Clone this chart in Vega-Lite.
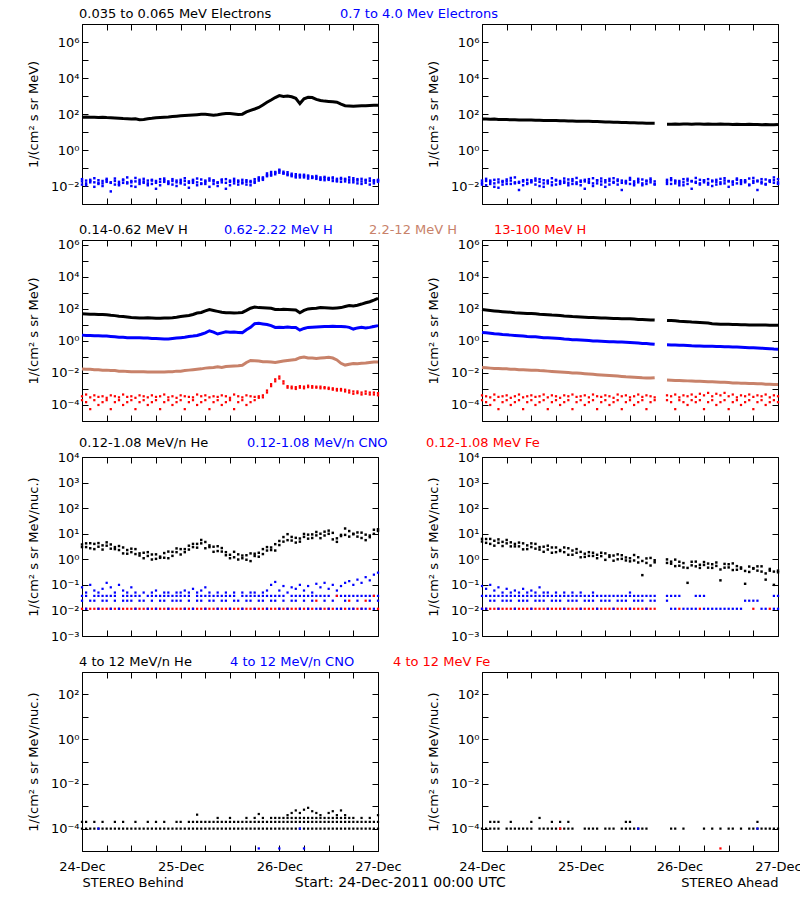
{
"$schema":"https://vega.github.io/schema/vega-lite/v6.json",
"padding":{"left":26,"top":6,"right":0,"bottom":0},
"background":"white",
"title":{"text":"Start: 24-Dec-2011 00:00 UTC","orient":"bottom","anchor":"middle","offset":-14,"dx":-14,"fontSize":14,"fontWeight":"normal","font":"DejaVu Sans","color":"black"},
"datasets":{
"p1":[{"h":0,"a":66,"b":0.018,"c":0.012,"d":0.024},{"h":1,"a":68,"b":0.014,"c":0.02,"d":0.011},{"h":2,"a":65,"b":0.022,"c":0.016,"d":0.019},{"h":3,"a":66,"b":0.016,"c":0.009,"d":0.027},{"h":4,"a":64,"b":0.013,"c":0.021,"d":0.015},{"h":5,"a":66,"b":0.019,"c":0.014,"d":0.01},{"h":6,"a":63,"b":0.025,"c":0.017,"d":0.021},{"h":7,"a":62,"b":0.015,"c":0.005,"d":0.016},{"h":8,"a":60,"b":0.012,"c":0.019,"d":0.026},{"h":9,"a":58,"b":0.017,"c":0.013,"d":0.011},{"h":10,"a":56,"b":0.021,"c":0.023,"d":0.015},{"h":11,"a":55,"b":0.014,"c":0.016,"d":0.03},{"h":12,"a":52,"b":0.016,"c":0.01,"d":0.019},{"h":13,"a":54,"b":0.028,"c":0.018,"d":0.009},{"h":14,"a":48,"b":0.013,"c":0.022,"d":0.017},{"h":15,"a":50,"b":0.018,"c":0.015,"d":0.025},{"h":16,"a":55,"b":0.011,"c":0.02,"d":0.014},{"h":17,"a":58,"b":0.02,"c":0.013,"d":0.022},{"h":18,"a":62,"b":0.015,"c":0.007,"d":0.019},{"h":19,"a":64,"b":0.024,"c":0.017,"d":0.011},{"h":20,"a":66,"b":0.017,"c":0.021,"d":0.026},{"h":21,"a":68,"b":0.013,"c":0.015,"d":0.018},{"h":22,"a":72,"b":0.019,"c":0.012,"d":0.024},{"h":23,"a":76,"b":0.016,"c":0.02,"d":0.01},{"h":24,"a":80,"b":0.022,"c":0.014,"d":0.017},{"h":25,"a":82,"b":0.012,"c":0.019,"d":0.027},{"h":26,"a":85,"b":0.018,"c":0.008,"d":0.015},{"h":27,"a":88,"b":0.015,"c":0.022,"d":0.019},{"h":28,"a":92,"b":0.026,"c":0.016,"d":0.011},{"h":29,"a":96,"b":0.014,"c":0.013,"d":0.023},{"h":30,"a":98,"b":0.017,"c":0.02,"d":0.013},{"h":31,"a":92,"b":0.02,"c":0.009,"d":0.026},{"h":32,"a":86,"b":0.013,"c":0.018,"d":0.021},{"h":33,"a":90,"b":0.016,"c":0.015,"d":0.01},{"h":34,"a":100,"b":0.023,"c":0.021,"d":0.016},{"h":35,"a":108,"b":0.015,"c":0.007,"d":0.024},{"h":36,"a":105,"b":0.011,"c":0.017,"d":0.02},{"h":37,"a":100,"b":0.019,"c":0.014,"d":0.025},{"h":38,"a":95,"b":0.017,"c":0.02,"d":0.012},{"h":39,"a":98,"b":0.014,"c":0.016,"d":0.022},{"h":40,"a":130,"b":0.021,"c":0.012,"d":0.017},{"h":41,"a":160,"b":0.016,"c":0.019,"d":0.011},{"h":42,"a":190,"b":0.018,"c":0.015,"d":0.024},{"h":43,"a":230,"b":0.025,"c":0.02,"d":0.03},{"h":44,"a":320,"b":0.03,"c":0.026,"d":0.022},{"h":45,"a":450,"b":0.035,"c":0.04,"d":0.05},{"h":46,"a":600,"b":0.045,"c":0.038,"d":0.06},{"h":47,"a":820,"b":0.055,"c":0.06,"d":0.045},{"h":48,"a":1050,"b":0.07,"c":0.055,"d":0.08},{"h":49,"a":950,"b":0.05,"c":0.062,"d":0.05},{"h":50,"a":1000,"b":0.045,"c":0.04,"d":0.058},{"h":51,"a":900,"b":0.04,"c":0.048,"d":0.035},{"h":52,"a":750,"b":0.035,"c":0.03,"d":0.045},{"h":53,"a":380,"b":0.038,"c":0.042,"d":0.03},{"h":54,"a":700,"b":0.03,"c":0.036,"d":0.042},{"h":55,"a":850,"b":0.033,"c":0.026,"d":0.038},{"h":56,"a":820,"b":0.028,"c":0.034,"d":0.03},{"h":57,"a":650,"b":0.03,"c":0.025,"d":0.036},{"h":58,"a":560,"b":0.025,"c":0.03,"d":0.022},{"h":59,"a":520,"b":0.027,"c":0.021,"d":0.032},{"h":60,"a":500,"b":0.022,"c":0.028,"d":0.025},{"h":61,"a":480,"b":0.026,"c":0.019,"d":0.03},{"h":62,"a":450,"b":0.02,"c":0.025,"d":0.018},{"h":63,"a":350,"b":0.024,"c":0.017,"d":0.028},{"h":64,"a":290,"b":0.018,"c":0.023,"d":0.025},{"h":65,"a":280,"b":0.022,"c":0.03,"d":0.016},{"h":66,"a":270,"b":0.016,"c":0.021,"d":0.027},{"h":67,"a":280,"b":0.02,"c":0.014,"d":0.024},{"h":68,"a":285,"b":0.025,"c":0.018,"d":0.013},{"h":69,"a":290,"b":0.015,"c":0.022,"d":0.02},{"h":70,"a":300,"b":0.019,"c":0.012,"d":0.026},{"h":71,"a":305,"b":0.021,"c":0.018,"d":0.014},{"h":72,"a":310,"b":0.017,"c":0.022,"d":0.02}],
"p2":[{"h":0,"a":53,"b":0.015,"c":0.02,"d":0.012},{"h":1,"a":52,"b":0.019,"c":0.011,"d":0.025},{"h":2,"a":51,"b":0.013,"c":0.017,"d":0.02},{"h":3,"a":52,"b":0.022,"c":0.014,"d":0.009},{"h":4,"a":50,"b":0.016,"c":0.008,"d":0.023},{"h":5,"a":50,"b":0.012,"c":0.019,"d":0.017},{"h":6,"a":49,"b":0.018,"c":0.023,"d":0.013},{"h":7,"a":48,"b":0.028,"c":0.013,"d":0.02},{"h":8,"a":48,"b":0.014,"c":0.016,"d":0.03},{"h":9,"a":47,"b":0.017,"c":0.006,"d":0.015},{"h":10,"a":47,"b":0.021,"c":0.018,"d":0.011},{"h":11,"a":46,"b":0.013,"c":0.015,"d":0.022},{"h":12,"a":46,"b":0.016,"c":0.021,"d":0.018},{"h":13,"a":45,"b":0.02,"c":0.012,"d":0.026},{"h":14,"a":45,"b":0.024,"c":0.017,"d":0.01},{"h":15,"a":44,"b":0.014,"c":0.009,"d":0.021},{"h":16,"a":44,"b":0.018,"c":0.02,"d":0.014},{"h":17,"a":43,"b":0.011,"c":0.016,"d":0.027},{"h":18,"a":43,"b":0.02,"c":0.022,"d":0.012},{"h":19,"a":42,"b":0.016,"c":0.013,"d":0.019},{"h":20,"a":42,"b":0.026,"c":0.018,"d":0.015},{"h":21,"a":41,"b":0.015,"c":0.011,"d":0.023},{"h":22,"a":41,"b":0.019,"c":0.024,"d":0.013},{"h":23,"a":40,"b":0.013,"c":0.016,"d":0.028},{"h":24,"a":40,"b":0.017,"c":0.02,"d":0.011},{"h":25,"a":39,"b":0.022,"c":0.007,"d":0.018},{"h":26,"a":39,"b":0.015,"c":0.018,"d":0.024},{"h":27,"a":38,"b":0.027,"c":0.014,"d":0.01},{"h":28,"a":38,"b":0.014,"c":0.021,"d":0.02},{"h":29,"a":37,"b":0.018,"c":0.012,"d":0.026},{"h":30,"a":36,"b":0.021,"c":0.016,"d":0.009},{"h":31,"a":36,"b":0.012,"c":0.025,"d":0.019},{"h":32,"a":35,"b":0.017,"c":0.015,"d":0.027},{"h":33,"a":35,"b":0.023,"c":0.019,"d":0.012},{"h":34,"a":34,"b":0.015,"c":0.006,"d":0.02},{"h":35,"a":34,"b":0.019,"c":0.017,"d":0.014},{"h":36,"a":33,"b":0.013,"c":0.022,"d":0.028},{"h":37,"a":33,"b":0.018,"c":0.014,"d":0.011},{"h":38,"a":32,"b":0.025,"c":0.016,"d":0.02},{"h":39,"a":32,"b":0.014,"c":0.011,"d":0.023},{"h":40,"a":31,"b":0.02,"c":0.018,"d":0.013},{"h":41,"a":31,"b":0.016,"c":0.021,"d":0.026},{"h":42,"a":31,"b":0.018,"c":0.013,"d":0.012},{"h":43},{"h":44},{"h":45,"a":27,"b":0.017,"c":0.022,"d":0.013},{"h":46,"a":27,"b":0.021,"c":0.013,"d":0.027},{"h":47,"a":28,"b":0.014,"c":0.018,"d":0.02},{"h":48,"a":27,"b":0.019,"c":0.011,"d":0.015},{"h":49,"a":28,"b":0.024,"c":0.016,"d":0.011},{"h":50,"a":28,"b":0.013,"c":0.02,"d":0.025},{"h":51,"a":27,"b":0.018,"c":0.007,"d":0.019},{"h":52,"a":28,"b":0.015,"c":0.017,"d":0.028},{"h":53,"a":28,"b":0.022,"c":0.014,"d":0.012},{"h":54,"a":27,"b":0.016,"c":0.021,"d":0.02},{"h":55,"a":28,"b":0.012,"c":0.015,"d":0.024},{"h":56,"a":27,"b":0.02,"c":0.018,"d":0.01},{"h":57,"a":27,"b":0.017,"c":0.012,"d":0.022},{"h":58,"a":28,"b":0.025,"c":0.016,"d":0.013},{"h":59,"a":27,"b":0.014,"c":0.02,"d":0.027},{"h":60,"a":27,"b":0.019,"c":0.009,"d":0.018},{"h":61,"a":26,"b":0.016,"c":0.018,"d":0.012},{"h":62,"a":27,"b":0.022,"c":0.014,"d":0.026},{"h":63,"a":26,"b":0.013,"c":0.021,"d":0.017},{"h":64,"a":26,"b":0.018,"c":0.016,"d":0.021},{"h":65,"a":27,"b":0.026,"c":0.012,"d":0.011},{"h":66,"a":26,"b":0.015,"c":0.019,"d":0.028},{"h":67,"a":26,"b":0.02,"c":0.006,"d":0.018},{"h":68,"a":25,"b":0.014,"c":0.017,"d":0.024},{"h":69,"a":26,"b":0.023,"c":0.013,"d":0.012},{"h":70,"a":25,"b":0.017,"c":0.02,"d":0.02},{"h":71,"a":25,"b":0.021,"c":0.015,"d":0.03},{"h":72,"a":26,"b":0.016,"c":0.024,"d":0.013}],
"p3":[{"h":0,"a":49,"b":2.3,"c":0.0175,"d":3.5e-4,"e":2e-4},{"h":1,"a":48,"b":2.2,"c":0.017,"d":4.5e-4,"e":1.5e-4},{"h":2,"a":47,"b":2.2,"c":0.017,"d":3e-4,"e":5.5e-5},{"h":3,"a":46,"b":2.1,"c":0.016,"d":4e-4,"e":2e-4},{"h":4,"a":45,"b":2.1,"c":0.016,"d":3.2e-4,"e":1e-4},{"h":5,"a":44,"b":2,"c":0.015,"d":3.5e-4,"e":1.5e-4},{"h":6,"a":43,"b":2,"c":0.015,"d":2.8e-4,"e":2e-4},{"h":7,"a":40,"b":1.9,"c":0.014,"d":4e-4,"e":5.5e-5},{"h":8,"a":38,"b":1.8,"c":0.014,"d":3.5e-4,"e":1.5e-4},{"h":9,"a":35,"b":1.7,"c":0.013,"d":3e-4,"e":2e-4},{"h":10,"a":33,"b":1.7,"c":0.013,"d":4.5e-4,"e":1e-4},{"h":11,"a":31,"b":1.6,"c":0.0125,"d":3.2e-4,"e":1.5e-4},{"h":12,"a":29,"b":1.6,"c":0.012,"d":3.5e-4,"e":2e-4},{"h":13,"a":28,"b":1.6,"c":0.012,"d":2.8e-4,"e":5.5e-5},{"h":14,"a":27,"b":1.6,"c":0.012,"d":4e-4,"e":1.5e-4},{"h":15,"a":27,"b":1.5,"c":0.012,"d":3.5e-4,"e":2e-4},{"h":16,"a":28,"b":1.5,"c":0.0115,"d":3e-4,"e":1e-4},{"h":17,"a":27,"b":1.4,"c":0.0115,"d":4e-4,"e":1.5e-4},{"h":18,"a":26,"b":1.4,"c":0.0115,"d":3.2e-4,"e":2e-4},{"h":19,"a":26,"b":1.35,"c":0.0115,"d":3.5e-4,"e":5.5e-5},{"h":20,"a":27,"b":1.3,"c":0.0115,"d":4.5e-4,"e":1.5e-4},{"h":21,"a":27,"b":1.3,"c":0.012,"d":3e-4,"e":2e-4},{"h":22,"a":28,"b":1.4,"c":0.012,"d":3.5e-4,"e":1e-4},{"h":23,"a":30,"b":1.5,"c":0.013,"d":2.8e-4,"e":1.5e-4},{"h":24,"a":33,"b":1.6,"c":0.013,"d":4e-4,"e":2e-4},{"h":25,"a":36,"b":1.7,"c":0.014,"d":3.5e-4,"e":5.5e-5},{"h":26,"a":39,"b":1.9,"c":0.015,"d":3.2e-4,"e":1.5e-4},{"h":27,"a":45,"b":2,"c":0.016,"d":3e-4,"e":2e-4},{"h":28,"a":55,"b":2.2,"c":0.017,"d":4.5e-4,"e":1e-4},{"h":29,"a":60,"b":2.6,"c":0.018,"d":3.5e-4,"e":1.5e-4},{"h":30,"a":75,"b":3.2,"c":0.02,"d":4e-4,"e":2e-4},{"h":31,"a":90,"b":4.3,"c":0.021,"d":3e-4,"e":5.5e-5},{"h":32,"a":80,"b":3.5,"c":0.022,"d":3.5e-4,"e":1.5e-4},{"h":33,"a":70,"b":2.7,"c":0.024,"d":3.2e-4,"e":2e-4},{"h":34,"a":62,"b":3.2,"c":0.022,"d":4e-4,"e":1e-4},{"h":35,"a":57,"b":3.7,"c":0.025,"d":3.5e-4,"e":1.5e-4},{"h":36,"a":58,"b":3.5,"c":0.026,"d":2.8e-4,"e":2e-4},{"h":37,"a":55,"b":3.6,"c":0.027,"d":4.5e-4,"e":5.5e-5},{"h":38,"a":57,"b":3.4,"c":0.028,"d":3.5e-4,"e":1.5e-4},{"h":39,"a":60,"b":3.3,"c":0.03,"d":3e-4,"e":2e-4},{"h":40,"a":80,"b":5,"c":0.045,"d":4e-4,"e":1e-4},{"h":41,"a":110,"b":7,"c":0.06,"d":3.5e-4,"e":1.5e-4},{"h":42,"a":130,"b":12,"c":0.058,"d":3.2e-4,"e":2e-4},{"h":43,"a":120,"b":12.5,"c":0.055,"d":3.5e-4,"e":2.8e-4},{"h":44,"a":118,"b":11.5,"c":0.05,"d":4e-4,"e":3e-4},{"h":45,"a":115,"b":10.5,"c":0.05,"d":8e-4,"e":6e-4},{"h":46,"a":110,"b":9,"c":0.048,"d":2e-3,"e":1.5e-3},{"h":47,"a":92,"b":7,"c":0.045,"d":4e-3,"e":3e-3},{"h":48,"a":90,"b":7.2,"c":0.05,"d":6e-3,"e":4.5e-3},{"h":49,"a":95,"b":7,"c":0.055,"d":3e-3,"e":2.2e-3},{"h":50,"a":92,"b":7.3,"c":0.06,"d":1.2e-3,"e":1.5e-3},{"h":51,"a":88,"b":7,"c":0.065,"d":1.1e-3,"e":1.4e-3},{"h":52,"a":85,"b":6.8,"c":0.07,"d":1.3e-3,"e":1e-3},{"h":53,"a":57,"b":4.7,"c":0.09,"d":1.2e-3,"e":1.5e-3},{"h":54,"a":80,"b":6,"c":0.1,"d":1.4e-3,"e":1.1e-3},{"h":55,"a":100,"b":7,"c":0.085,"d":1.3e-3,"e":1.6e-3},{"h":56,"a":105,"b":7.2,"c":0.087,"d":1.5e-3,"e":1.2e-3},{"h":57,"a":110,"b":7.5,"c":0.08,"d":1.2e-3,"e":1.4e-3},{"h":58,"a":120,"b":7.8,"c":0.085,"d":1.4e-3,"e":1.1e-3},{"h":59,"a":118,"b":8,"c":0.09,"d":1.1e-3,"e":1.3e-3},{"h":60,"a":115,"b":8,"c":0.095,"d":1e-3,"e":1.2e-3},{"h":61,"a":110,"b":8.2,"c":0.085,"d":9e-4,"e":1.1e-3},{"h":62,"a":115,"b":8,"c":0.065,"d":1e-3,"e":8e-4},{"h":63,"a":120,"b":8,"c":0.04,"d":8e-4,"e":1e-3},{"h":64,"a":140,"b":7.8,"c":0.031,"d":7e-4,"e":9e-4},{"h":65,"a":160,"b":7,"c":0.035,"d":6e-4,"e":8e-4},{"h":66,"a":150,"b":5.5,"c":0.039,"d":7e-4,"e":5e-4},{"h":67,"a":170,"b":6.5,"c":0.038,"d":5.5e-4,"e":7e-4},{"h":68,"a":200,"b":7,"c":0.04,"d":6e-4,"e":4.5e-4},{"h":69,"a":240,"b":6.5,"c":0.042,"d":5e-4,"e":7e-4},{"h":70,"a":280,"b":7,"c":0.045,"d":6e-4,"e":4.5e-4},{"h":71,"a":350,"b":8,"c":0.048,"d":4.5e-4,"e":6e-4},{"h":72,"a":450,"b":9,"c":0.049,"d":5.5e-4,"e":4e-4}],
"p4":[{"h":0,"a":91,"b":3.4,"c":0.022,"d":4e-4,"e":2e-4},{"h":1,"a":85,"b":3.2,"c":0.021,"d":3.5e-4,"e":1.5e-4},{"h":2,"a":80,"b":3,"c":0.02,"d":3e-4,"e":1e-4},{"h":3,"a":75,"b":2.8,"c":0.019,"d":4.5e-4,"e":2e-4},{"h":4,"a":71,"b":2.7,"c":0.019,"d":3.2e-4,"e":5.5e-5},{"h":5,"a":67,"b":2.5,"c":0.018,"d":3.5e-4,"e":1.5e-4},{"h":6,"a":64,"b":2.4,"c":0.018,"d":4e-4,"e":2e-4},{"h":7,"a":61,"b":2.3,"c":0.017,"d":2.8e-4,"e":1e-4},{"h":8,"a":58,"b":2.2,"c":0.017,"d":3.5e-4,"e":1.5e-4},{"h":9,"a":56,"b":2.1,"c":0.016,"d":4.5e-4,"e":2e-4},{"h":10,"a":54,"b":2,"c":0.016,"d":3e-4,"e":5.5e-5},{"h":11,"a":52,"b":1.9,"c":0.0155,"d":3.5e-4,"e":1.5e-4},{"h":12,"a":51,"b":1.85,"c":0.015,"d":4e-4,"e":2e-4},{"h":13,"a":50,"b":1.8,"c":0.015,"d":3.2e-4,"e":1e-4},{"h":14,"a":47,"b":1.7,"c":0.014,"d":3.5e-4,"e":1.5e-4},{"h":15,"a":45,"b":1.6,"c":0.0135,"d":4.5e-4,"e":2e-4},{"h":16,"a":43,"b":1.55,"c":0.013,"d":3e-4,"e":5.5e-5},{"h":17,"a":41,"b":1.5,"c":0.0125,"d":4e-4,"e":1.5e-4},{"h":18,"a":40,"b":1.45,"c":0.012,"d":3.5e-4,"e":2e-4},{"h":19,"a":38,"b":1.4,"c":0.0115,"d":2.8e-4,"e":1e-4},{"h":20,"a":36,"b":1.3,"c":0.011,"d":4e-4,"e":1.5e-4},{"h":21,"a":35,"b":1.25,"c":0.0105,"d":3.5e-4,"e":2e-4},{"h":22,"a":33,"b":1.2,"c":0.01,"d":4.5e-4,"e":5.5e-5},{"h":23,"a":32,"b":1.18,"c":0.0098,"d":3.2e-4,"e":1.5e-4},{"h":24,"a":31,"b":1.15,"c":0.0095,"d":3.5e-4,"e":2e-4},{"h":25,"a":30,"b":1.1,"c":0.009,"d":4e-4,"e":1e-4},{"h":26,"a":29,"b":1.05,"c":0.0086,"d":3e-4,"e":1.5e-4},{"h":27,"a":28.5,"b":1,"c":0.0082,"d":4.5e-4,"e":2e-4},{"h":28,"a":28,"b":0.98,"c":0.0078,"d":3.5e-4,"e":5.5e-5},{"h":29,"a":27,"b":0.95,"c":0.0075,"d":3.2e-4,"e":1.5e-4},{"h":30,"a":26.5,"b":0.93,"c":0.0072,"d":4e-4,"e":2e-4},{"h":31,"a":26,"b":0.9,"c":0.007,"d":3.5e-4,"e":1e-4},{"h":32,"a":25.5,"b":0.88,"c":0.0067,"d":2.8e-4,"e":1.5e-4},{"h":33,"a":25,"b":0.86,"c":0.0064,"d":4.5e-4,"e":2e-4},{"h":34,"a":24.5,"b":0.85,"c":0.0061,"d":3.5e-4,"e":5.5e-5},{"h":35,"a":24,"b":0.83,"c":0.0058,"d":4e-4,"e":1.5e-4},{"h":36,"a":24,"b":0.8,"c":0.0056,"d":3e-4,"e":2e-4},{"h":37,"a":23,"b":0.77,"c":0.0054,"d":3.5e-4,"e":1e-4},{"h":38,"a":22,"b":0.74,"c":0.0052,"d":4.5e-4,"e":1.5e-4},{"h":39,"a":21.5,"b":0.7,"c":0.005,"d":3.2e-4,"e":2e-4},{"h":40,"a":21,"b":0.68,"c":0.0049,"d":4e-4,"e":5.5e-5},{"h":41,"a":20.5,"b":0.65,"c":0.0048,"d":3.5e-4,"e":1.5e-4},{"h":42,"a":20,"b":0.62,"c":0.005,"d":3e-4,"e":2e-4},{"h":43},{"h":44},{"h":45,"a":19,"b":0.57,"c":0.0036,"d":4e-4,"e":2e-4},{"h":46,"a":18.5,"b":0.56,"c":0.0035,"d":3.5e-4,"e":1.5e-4},{"h":47,"a":18,"b":0.55,"c":0.0034,"d":4.5e-4,"e":5.5e-5},{"h":48,"a":17,"b":0.54,"c":0.0034,"d":3e-4,"e":2e-4},{"h":49,"a":16.5,"b":0.53,"c":0.0033,"d":4e-4,"e":1.5e-4},{"h":50,"a":16,"b":0.52,"c":0.0032,"d":3.5e-4,"e":1e-4},{"h":51,"a":15,"b":0.5,"c":0.0031,"d":4.5e-4,"e":2e-4},{"h":52,"a":14.5,"b":0.49,"c":0.003,"d":3.2e-4,"e":1.5e-4},{"h":53,"a":14,"b":0.48,"c":0.003,"d":5e-4,"e":2e-4},{"h":54,"a":13.5,"b":0.47,"c":0.0029,"d":4e-4,"e":5.5e-5},{"h":55,"a":13,"b":0.46,"c":0.0028,"d":5.7e-4,"e":1.5e-4},{"h":56,"a":12,"b":0.46,"c":0.0028,"d":3.5e-4,"e":2e-4},{"h":57,"a":11.5,"b":0.45,"c":0.0027,"d":5e-4,"e":1e-4},{"h":58,"a":11,"b":0.45,"c":0.0026,"d":4e-4,"e":1.5e-4},{"h":59,"a":11,"b":0.44,"c":0.0026,"d":5.7e-4,"e":2e-4},{"h":60,"a":10.8,"b":0.43,"c":0.0025,"d":3.5e-4,"e":5.5e-5},{"h":61,"a":10.6,"b":0.42,"c":0.0024,"d":4.5e-4,"e":1.5e-4},{"h":62,"a":10.5,"b":0.41,"c":0.0024,"d":3e-4,"e":2e-4},{"h":63,"a":10.3,"b":0.4,"c":0.0023,"d":4e-4,"e":1e-4},{"h":64,"a":10.2,"b":0.39,"c":0.0023,"d":3.5e-4,"e":1.5e-4},{"h":65,"a":10,"b":0.38,"c":0.0022,"d":4.5e-4,"e":2e-4},{"h":66,"a":10,"b":0.37,"c":0.0022,"d":3.2e-4,"e":5.5e-5},{"h":67,"a":9.9,"b":0.36,"c":0.0021,"d":4e-4,"e":1.5e-4},{"h":68,"a":9.8,"b":0.35,"c":0.0021,"d":3.5e-4,"e":2e-4},{"h":69,"a":9.7,"b":0.34,"c":0.002,"d":4.5e-4,"e":1e-4},{"h":70,"a":9.6,"b":0.33,"c":0.002,"d":3e-4,"e":1.5e-4},{"h":71,"a":9.6,"b":0.31,"c":0.0019,"d":4e-4,"e":2e-4},{"h":72,"a":9.5,"b":0.3,"c":0.0019,"d":3.5e-4,"e":1.5e-4}],
"p5":[{"h":0,"a":3.0,"b":3.8,"c":0.08,"d":0.037,"e":0.0116,"f":0.024},{"h":1,"a":4.2,"b":3.0,"c":0.05,"d":0.037,"e":0.0116,"f":0.0116},{"h":2,"a":2.7,"b":4.25,"c":0.1,"e":0.0116,"f":0.024},{"h":3,"a":4.0,"b":2.5,"c":0.06,"d":0.037,"e":0.0116,"f":0.024},{"h":4,"a":4.3,"b":3.1,"c":0.05,"d":0.037,"e":0.0116,"f":0.0116},{"h":5,"a":2.4,"b":3.5,"c":0.07,"d":0.037,"e":0.0116,"f":0.024},{"h":6,"a":3.4,"b":4.6,"c":0.12,"d":0.037,"e":0.0116,"f":0.024},{"h":7,"a":3.8,"b":2.6,"c":0.08,"d":0.037,"e":0.0116,"f":0.0116},{"h":8,"a":2.5,"b":3.0,"c":0.05,"d":0.037,"e":0.0116,"f":0.024},{"h":9,"a":3.3,"b":2.3,"c":0.1,"e":0.0116,"f":0.0116},{"h":10,"a":1.7,"b":2.9,"c":0.06,"d":0.037,"e":0.0116,"f":0.024},{"h":11,"a":2.3,"b":1.65,"c":0.05,"d":0.037,"e":0.0116,"f":0.024},{"h":12,"a":1.9,"b":2.6,"c":0.08,"d":0.037,"e":0.0116,"f":0.024},{"h":13,"a":2.5,"b":1.6,"c":0.05,"d":0.037,"e":0.0116,"f":0.0116},{"h":14,"a":1.4,"b":1.7,"d":0.037,"e":0.0116,"f":0.024},{"h":15,"a":1.8,"b":1.1,"c":0.05,"e":0.0116,"f":0.024},{"h":16,"a":1.35,"b":1.9,"d":0.037,"e":0.0116,"f":0.0116},{"h":17,"a":0.98,"b":1.54,"c":0.05,"d":0.037,"e":0.0116,"f":0.024},{"h":18,"a":1.56,"b":1.04,"c":0.06,"d":0.037,"e":0.0116,"f":0.0116},{"h":19,"a":1.27,"b":1.14,"d":0.037,"e":0.0116,"f":0.024},{"h":20,"a":1.15,"b":1.75,"c":0.05,"d":0.037,"e":0.0116,"f":0.024},{"h":21,"a":2.0,"b":1.1,"c":0.05,"d":0.037,"e":0.0116,"f":0.0116},{"h":22,"a":1.36,"b":1.95,"d":0.037,"e":0.0116,"f":0.024},{"h":23,"a":1.9,"b":2.66,"c":0.05,"d":0.037,"e":0.0116,"f":0.024},{"h":24,"a":2.5,"b":1.54,"c":0.05,"d":0.037,"e":0.0116,"f":0.024},{"h":25,"a":1.9,"b":2.5,"c":0.06,"d":0.037,"e":0.0116,"f":0.0116},{"h":26,"a":3.4,"b":2.4,"c":0.05,"d":0.037,"e":0.0116,"f":0.024},{"h":27,"a":3.0,"b":4.0,"c":0.07,"e":0.0116,"f":0.0116},{"h":28,"a":4.0,"b":2.85,"c":0.05,"d":0.037,"e":0.0116,"f":0.024},{"h":29,"a":5.7,"b":4.2,"c":0.06,"d":0.037,"e":0.0116,"f":0.024},{"h":30,"a":2.7,"b":4.75,"c":0.08,"d":0.037,"e":0.0116,"f":0.0116},{"h":31,"a":3.0,"b":3.5,"c":0.05,"d":0.037,"e":0.0116,"f":0.024},{"h":32,"a":3.1,"b":1.96,"d":0.037,"e":0.0116,"f":0.024},{"h":33,"a":2.1,"b":3.25,"c":0.05,"d":0.037,"e":0.0116,"f":0.0116},{"h":34,"a":2.75,"b":2.0,"d":0.037,"e":0.0116,"f":0.024},{"h":35,"a":1.44,"b":1.9,"c":0.05,"d":0.037,"e":0.0116,"f":0.024},{"h":36,"a":1.5,"b":1.1,"d":0.037,"e":0.0116,"f":0.0116},{"h":37,"a":1.96,"b":1.2,"c":0.05,"d":0.037,"e":0.0116,"f":0.024},{"h":38,"a":0.98,"b":1.56,"e":0.0116,"f":0.024},{"h":39,"a":1.1,"b":1.4,"c":0.05,"d":0.037,"e":0.0116,"f":0.0116},{"h":40,"a":1.44,"b":0.96,"d":0.037,"e":0.0116,"f":0.024},{"h":41,"a":0.85,"b":1.7,"c":0.05,"d":0.037,"e":0.0116,"f":0.024},{"h":42,"a":1.65,"b":1.35,"c":0.05,"d":0.037,"e":0.0116,"f":0.0116},{"h":43,"a":1.8,"b":1.26,"d":0.037,"e":0.0116,"f":0.024},{"h":44,"a":1.6,"b":2.5,"c":0.05,"d":0.037,"e":0.0116,"f":0.024},{"h":45,"a":3.0,"b":2.2,"c":0.06,"d":0.037,"e":0.0116,"f":0.0116},{"h":46,"a":2.3,"b":2.9,"c":0.1,"d":0.037,"e":0.0116,"f":0.024},{"h":47,"a":2.2,"b":3.9,"c":0.13,"d":0.037,"e":0.0116,"f":0.024},{"h":48,"a":5.2,"b":3.6,"c":0.06,"d":0.037,"e":0.0116,"f":0.0116},{"h":49,"a":7.4,"b":4.9,"c":0.09,"d":0.037,"e":0.0116,"f":0.024},{"h":50,"a":5.6,"b":9.6,"c":0.05,"e":0.0116,"f":0.0116},{"h":51,"a":7.5,"b":5.4,"c":0.08,"d":0.037,"e":0.0116,"f":0.024},{"h":52,"a":4.5,"b":6.9,"c":0.07,"d":0.037,"e":0.0116,"f":0.024},{"h":53,"a":6.5,"b":4.9,"c":0.1,"d":0.037,"e":0.0116,"f":0.0116},{"h":54,"a":9.8,"b":7.5,"c":0.06,"d":0.037,"e":0.0116,"f":0.024},{"h":55,"a":6.4,"b":9.2,"c":0.09,"d":0.037,"e":0.0116,"f":0.0116},{"h":56,"a":9.4,"b":6.8,"c":0.05,"d":0.037,"e":0.0116,"f":0.024},{"h":57,"a":8.6,"b":11.7,"c":0.11,"d":0.037,"e":0.024,"f":0.0116},{"h":58,"a":6.7,"b":10,"c":0.08,"d":0.037,"e":0.0116,"f":0.0116},{"h":59,"a":12,"b":8.5,"c":0.12,"d":0.037,"e":0.0116,"f":0.024},{"h":60,"a":9.9,"b":13.2,"c":0.07,"d":0.037,"e":0.0116,"f":0.0116},{"h":61,"a":10.8,"b":6,"c":0.1,"e":0.0116,"f":0.024},{"h":62,"a":4.8,"b":6.6,"c":0.06,"d":0.037,"e":0.037,"f":0.0116},{"h":63,"a":9,"b":8.1,"c":0.09,"d":0.037,"e":0.0116,"f":0.0116},{"h":64,"a":9,"b":16,"c":0.12,"d":0.037,"e":0.0116,"f":0.024},{"h":65,"a":12.7,"b":7.7,"c":0.14,"d":0.037,"e":0.024,"f":0.0116},{"h":66,"a":10,"b":9.5,"c":0.1,"d":0.037,"e":0.0116,"f":0.0116},{"h":67,"a":7.7,"b":11.2,"c":0.16,"d":0.037,"e":0.0116,"f":0.024},{"h":68,"a":11,"b":6.8,"c":0.12,"d":0.037,"e":0.0116,"f":0.0116},{"h":69,"a":5.6,"b":9.2,"c":0.2,"d":0.037,"e":0.024,"f":0.0116},{"h":70,"a":8.5,"b":7.3,"c":0.15,"d":0.037,"e":0.0116,"f":0.024},{"h":71,"a":9.9,"b":14.3,"c":0.25,"d":0.037,"e":0.037,"f":0.0116},{"h":72,"a":15,"b":12.8,"c":0.3,"d":0.037,"e":0.0116,"f":0.024}],
"p6":[{"h":0,"a":4.95,"b":6.3,"c":0.09,"d":0.037,"e":0.0116,"f":0.0116},{"h":1,"a":6.2,"b":4.4,"c":0.07,"d":0.037,"e":0.0116,"f":0.0116},{"h":2,"a":4,"b":6.25,"c":0.1,"d":0.037,"e":0.0116,"f":0.024},{"h":3,"a":5.3,"b":3.4,"c":0.06,"d":0.037,"e":0.0116,"f":0.024},{"h":4,"a":6,"b":4.4,"c":0.08,"d":0.037,"e":0.0116,"f":0.0116},{"h":5,"a":3.3,"b":4.8,"c":0.05,"d":0.037,"e":0.0116,"f":0.024},{"h":6,"a":4.2,"b":5.7,"c":0.07,"d":0.037,"e":0.0116,"f":0.024},{"h":7,"a":4.6,"b":3.2,"c":0.05,"d":0.037,"e":0.0116,"f":0.024},{"h":8,"a":3.2,"b":4.0,"c":0.06,"d":0.037,"e":0.0116,"f":0.0116},{"h":9,"a":4.5,"b":3.2,"c":0.05,"d":0.037,"e":0.0116,"f":0.024},{"h":10,"a":2.45,"b":4.2,"c":0.07,"d":0.037,"e":0.0116,"f":0.024},{"h":11,"a":3.5,"b":2.5,"c":0.05,"d":0.037,"e":0.0116,"f":0.024},{"h":12,"a":3.0,"b":4.2,"c":0.06,"d":0.037,"e":0.0116,"f":0.0116},{"h":13,"a":4.0,"b":2.6,"c":0.05,"d":0.037,"e":0.0116,"f":0.024},{"h":14,"a":2.4,"b":3,"c":0.08,"d":0.037,"e":0.0116,"f":0.024},{"h":15,"a":3.1,"b":1.96,"c":0.05,"d":0.037,"e":0.0116,"f":0.024},{"h":16,"a":2.4,"b":3.4,"c":0.05,"d":0.037,"e":0.0116,"f":0.0116},{"h":17,"a":1.8,"b":2.9,"d":0.037,"e":0.0116,"f":0.024},{"h":18,"a":2.9,"b":1.9,"c":0.05,"d":0.037,"e":0.0116,"f":0.024},{"h":19,"a":2.3,"b":2.1,"d":0.037,"e":0.0116,"f":0.024},{"h":20,"a":1.9,"b":2.9,"c":0.05,"d":0.037,"e":0.0116,"f":0.0116},{"h":21,"a":2.7,"b":1.5,"d":0.037,"e":0.0116,"f":0.024},{"h":22,"a":1.5,"b":2.2,"c":0.05,"d":0.037,"e":0.0116,"f":0.024},{"h":23,"a":1.8,"b":2.5,"d":0.037,"e":0.0116,"f":0.024},{"h":24,"a":1.95,"b":1.2,"c":0.05,"d":0.037,"e":0.0116,"f":0.0116},{"h":25,"a":1.24,"b":1.65,"d":0.037,"e":0.0116,"f":0.024},{"h":26,"a":1.9,"b":1.36,"d":0.037,"e":0.0116,"f":0.024},{"h":27,"a":1.35,"b":1.8,"c":0.05,"d":0.037,"e":0.0116,"f":0.024},{"h":28,"a":1.5,"b":1.1,"d":0.037,"e":0.0116,"f":0.0116},{"h":29,"a":1.8,"b":1.33,"d":0.037,"e":0.0116,"f":0.024},{"h":30,"a":0.95,"b":1.7,"d":0.037,"e":0.0116,"f":0.024},{"h":31,"a":1.24,"b":1.43,"d":0.037,"e":0.0116,"f":0.024},{"h":32,"a":1.4,"b":0.88,"d":0.037,"e":0.0116,"f":0.0116},{"h":33,"a":1.0,"b":1.56,"d":0.037,"e":0.0116,"f":0.024},{"h":34,"a":1.44,"b":1.04,"d":0.037,"e":0.0116,"f":0.024},{"h":35,"a":0.9,"b":1.18,"d":0.037,"e":0.0116,"f":0.024},{"h":36,"a":1.1,"b":0.83,"c":0.05,"d":0.037,"e":0.0116,"f":0.0116},{"h":37,"a":1.47,"b":0.9,"d":0.037,"e":0.0116,"f":0.024},{"h":38,"a":0.75,"b":1.2,"d":0.037,"e":0.0116,"f":0.024},{"h":39,"a":0.86,"b":0.24,"d":0.037,"e":0.0116,"f":0.024},{"h":40,"a":1.08,"b":0.72,"d":0.037,"e":0.0116,"f":0.0116},{"h":41,"a":0.57,"b":1.13,"d":0.037,"e":0.0116,"f":0.024},{"h":42,"a":0.92,"b":0.76,"d":0.037,"e":0.0116,"f":0.024},{"h":45,"a":0.99,"b":0.72,"d":0.037,"f":0.024},{"h":46,"a":0.67,"b":0.81,"d":0.037,"f":0.0116},{"h":47,"a":0.54,"b":0.97,"d":0.037,"f":0.0116},{"h":48,"a":0.8,"b":0.56,"d":0.037,"e":0.0116},{"h":49,"a":0.71,"b":0.48,"f":0.0116},{"h":50,"a":0.46,"b":0.12,"f":0.0116},{"h":51,"a":0.8,"b":0.58,"f":0.0116},{"h":52,"a":0.53,"b":0.81,"d":0.037,"f":0.0116},{"h":53,"a":0.61,"b":0.46,"d":0.037,"e":0.0116},{"h":54,"a":0.78,"b":0.6,"d":0.037,"f":0.0116},{"h":55,"a":0.47,"b":0.68,"f":0.0116},{"h":56,"a":0.64,"b":0.46,"f":0.0116},{"h":57,"a":0.55,"b":0.75,"f":0.0116},{"h":58,"a":0.4,"b":0.15,"f":0.0116},{"h":59,"a":0.66,"b":0.47,"f":0.0116},{"h":60,"a":0.48,"b":0.64,"f":0.0116},{"h":61,"a":0.69,"b":0.38,"f":0.0116},{"h":62,"a":0.39,"b":0.54,"f":0.0116},{"h":63,"a":0.48,"b":0.43,"f":0.0116},{"h":64,"a":0.35,"b":0.11,"f":0.024},{"h":65,"a":0.52,"b":0.32,"f":0.024},{"h":66,"a":0.45,"b":0.43,"e":0.0116,"f":0.024},{"h":67,"a":0.36,"b":0.53,"f":0.024},{"h":68,"a":0.53,"b":0.33,"f":0.0116},{"h":69,"a":0.28,"b":0.16,"f":0.0116},{"h":70,"a":0.42,"b":0.36,"e":0.0116},{"h":71,"a":0.33,"b":0.1,"d":0.037,"f":0.0116},{"h":72,"a":0.36,"b":0.31,"d":0.037,"f":0.0116}],
"p7":[{"h":0,"a":2e-4,"c":1e-4},{"h":1,"a":2e-4,"c":1e-4},{"h":2,"c":1e-4},{"h":3,"a":2e-4,"c":1e-4},{"h":4,"c":1e-4,"d":1e-4},{"h":5,"a":2e-4,"c":1e-4},{"h":6,"c":1e-4},{"h":7,"c":1e-4},{"h":8,"a":2e-4,"c":1e-4},{"h":9,"c":1e-4},{"h":10,"a":2e-4,"c":1e-4},{"h":11,"c":1e-4},{"h":12,"c":1e-4},{"h":13,"a":2e-4,"c":1e-4},{"h":14,"c":1e-4},{"h":15,"c":1e-4},{"h":16,"a":2e-4,"c":1e-4},{"h":17,"c":1e-4},{"h":18,"a":2e-4,"c":1e-4},{"h":19,"c":1e-4},{"h":20,"a":2e-4,"c":1e-4},{"h":21,"c":1e-4},{"h":22,"c":1e-4},{"h":23,"a":2e-4,"c":1e-4},{"h":24,"a":2e-4,"c":1e-4},{"h":25,"c":1e-4},{"h":26,"a":2e-4,"c":1e-4},{"h":27,"a":2e-4,"c":1e-4},{"h":28,"a":2e-4,"c":1e-4,"f":4.2e-4},{"h":29,"a":2e-4,"c":1e-4},{"h":30,"a":2e-4,"c":1e-4},{"h":31,"a":2e-4,"c":1e-4},{"h":32,"a":2e-4,"c":1e-4},{"h":33,"a":2e-4,"b":3e-4,"c":1e-4},{"h":34,"a":2e-4,"c":1e-4},{"h":35,"a":2e-4,"c":1e-4},{"h":36,"a":2e-4,"b":3e-4,"c":1e-4},{"h":37,"a":2e-4,"c":1e-4},{"h":38,"a":2e-4,"c":1e-4},{"h":39,"a":2e-4,"c":1e-4},{"h":40,"a":2e-4,"b":3e-4,"c":1e-4},{"h":41,"a":2e-4,"c":1e-4},{"h":42,"a":2e-4,"b":3e-4,"c":1e-4},{"h":43,"a":2e-4,"c":1e-4,"f":4.5e-4,"d":1.3e-5},{"h":44,"a":2e-4,"b":3e-4,"c":1e-4},{"h":45,"a":2e-4,"c":1e-4},{"h":46,"a":2e-4,"b":3e-4,"c":1e-4},{"h":47,"a":2e-4,"b":3e-4,"c":1e-4},{"h":48,"a":2e-4,"b":3e-4,"c":1e-4,"d":1.3e-5},{"h":49,"a":2e-4,"b":3e-4,"c":1e-4},{"h":50,"a":2e-4,"b":3e-4,"c":1e-4,"f":4e-4},{"h":51,"a":2e-4,"b":3e-4,"c":1e-4,"f":5e-4},{"h":52,"a":2e-4,"b":3e-4,"c":1e-4,"f":6.5e-4},{"h":53,"a":2e-4,"b":3e-4,"c":1e-4,"f":5e-4,"d":1e-4},{"h":54,"a":2e-4,"b":3e-4,"c":1e-4,"f":7e-4,"d":1.3e-5},{"h":55,"a":2e-4,"b":3e-4,"c":1e-4,"f":8.5e-4},{"h":56,"a":2e-4,"b":3e-4,"c":1e-4,"f":6e-4},{"h":57,"a":2e-4,"b":3e-4,"c":1e-4,"f":5e-4},{"h":58,"a":2e-4,"b":3e-4,"c":1e-4,"f":4e-4},{"h":59,"a":2e-4,"b":3e-4,"c":1e-4},{"h":60,"a":2e-4,"b":3e-4,"c":1e-4,"f":5e-4},{"h":61,"a":2e-4,"b":3e-4,"c":1e-4,"f":6e-4},{"h":62,"a":2e-4,"b":3e-4,"c":1e-4,"f":4e-4},{"h":63,"a":2e-4,"b":3e-4,"c":1e-4,"f":6.5e-4},{"h":64,"a":2e-4,"b":3e-4,"c":1e-4,"f":4e-4},{"h":65,"a":2e-4,"b":3e-4,"c":1e-4},{"h":66,"a":2e-4,"b":3e-4,"c":1e-4},{"h":67,"a":2e-4,"c":1e-4},{"h":68,"a":2e-4,"b":3e-4,"c":1e-4},{"h":69,"a":2e-4,"c":1e-4},{"h":70,"a":2e-4,"b":3e-4,"c":1e-4},{"h":71,"a":2e-4,"c":1e-4},{"h":72,"a":2e-4,"c":1e-4,"f":4e-4}],
"p8":[{"h":0,"c":1e-4},{"h":1,"c":1e-4},{"h":2,"a":2e-4,"c":1e-4},{"h":3,"a":2e-4,"c":1e-4},{"h":4,"a":2e-4,"c":1e-4},{"h":6,"c":1e-4},{"h":7,"a":2e-4,"c":1e-4},{"h":8,"c":1e-4},{"h":9,"c":1e-4},{"h":10,"c":1e-4},{"h":11,"c":1e-4},{"h":12,"a":2e-4,"c":1e-4},{"h":14,"a":3e-4,"c":1e-4},{"h":15,"c":1e-4},{"h":16,"c":1e-4},{"h":17,"a":2e-4,"c":1e-4},{"h":18,"c":1e-4},{"h":19,"a":2e-4,"c":1e-4,"e":1e-4},{"h":20,"c":1e-4},{"h":21,"a":2e-4,"c":1e-4},{"h":22,"c":1e-4},{"h":25,"c":1e-4},{"h":26,"c":1e-4},{"h":27,"c":1e-4},{"h":28,"c":1e-4},{"h":30,"c":1e-4},{"h":31,"c":1e-4},{"h":32,"c":1e-4},{"h":34,"c":1e-4},{"h":35,"a":2e-4,"c":1e-4},{"h":36,"a":2e-4,"c":1e-4},{"h":37,"c":1e-4},{"h":38,"c":1e-4,"d":1e-4},{"h":39,"c":1e-4},{"h":40,"c":1e-4},{"h":46,"c":1e-4},{"h":47,"c":1e-4},{"h":49,"c":1e-4},{"h":54,"c":1e-4},{"h":56,"c":1e-4},{"h":58,"c":1e-4,"e":1.3e-5},{"h":60,"c":1e-4},{"h":61,"c":1e-4},{"h":63,"c":1e-4},{"h":65,"c":1e-4},{"h":66,"c":1e-4},{"h":67,"a":2e-4,"c":1e-4,"d":1e-4},{"h":68,"c":1e-4},{"h":69,"c":1e-4},{"h":70,"c":1e-4},{"h":71,"c":1e-4},{"h":72,"c":1e-4}]
},
"columns":2,
"spacing":{"row":36,"column":104},
"bounds":"flush",
"resolve":{"scale":{"color":"independent"},"legend":{"color":"independent"}},
"concat":[
{"width":296,"height":180,"data":{"name":"p1"},"transform":[{"fold":["a","b","c","d"],"as":["k","v"]}],
"encoding":{
"x":{"field":"h","type":"quantitative","scale":{"domain":[0,72],"nice":false,"zero":false},"axis":{"orient":"bottom","values":[0,6,12,18,24,30,36,42,48,54,60,66,72],"labels":false,"title":null}},
"y":{"field":"v","type":"quantitative","scale":{"type":"log","domain":[0.001,10000000],"nice":false},"axis":{"orient":"left","values":[0.001,0.01,0.1,1,10,100,1000,10000,100000,1000000,10000000],"labelExpr":"round(log(datum.value)/LN10)%2!=0?'':'10'+['⁻⁵','⁻⁴','⁻³','⁻²','⁻¹','⁰','¹','²','³','⁴','⁵','⁶','⁷'][round(log(datum.value)/LN10)+5]","title":"1/(cm² s sr MeV)","titlePadding":10}},
"color":{"field":"k","type":"nominal","scale":{"domain":["a","b","c","d"],"range":["black","blue","blue","blue"]},"legend":{"orient":"none","legendX":-16,"legendY":-17,"title":null,"direction":"horizontal","values":["a","b"],"columnPadding":55,"labelExpr":"datum.value=='a'?'0.035 to 0.065 MeV Electrons':'0.7 to 4.0 Mev Electrons'","labelColor":{"expr":"datum.value=='a'?'black':'blue'"}}}},
"layer":[
{"transform":[{"filter":{"field":"k","oneOf":["a"]}}],"mark":{"type":"line","strokeWidth":3,"invalid":"break-paths-show-domains"}},
{"transform":[{"filter":{"field":"k","oneOf":["b","c","d"]}}],"mark":{"type":"square","size":6,"opacity":1},"encoding":{"x":{"field":"h","type":"quantitative","axis":{"orient":"top","values":[0,6,12,18,24,30,36,42,48,54,60,66,72],"labels":false,"title":null}},"y":{"field":"v","type":"quantitative","axis":{"orient":"right","values":[0.001,0.01,0.1,1,10,100,1000,10000,100000,1000000,10000000],"labels":false,"title":null}}}}
],
"resolve":{"axis":{"x":"independent","y":"independent"}}},
{"width":296,"height":180,"data":{"name":"p2"},"transform":[{"fold":["a","b","c","d"],"as":["k","v"]}],
"encoding":{
"x":{"field":"h","type":"quantitative","scale":{"domain":[0,72],"nice":false,"zero":false},"axis":{"orient":"bottom","values":[0,6,12,18,24,30,36,42,48,54,60,66,72],"labels":false,"title":null}},
"y":{"field":"v","type":"quantitative","scale":{"type":"log","domain":[0.001,10000000],"nice":false},"axis":{"orient":"left","values":[0.001,0.01,0.1,1,10,100,1000,10000,100000,1000000,10000000],"labelExpr":"round(log(datum.value)/LN10)%2!=0?'':'10'+['⁻⁵','⁻⁴','⁻³','⁻²','⁻¹','⁰','¹','²','³','⁴','⁵','⁶','⁷'][round(log(datum.value)/LN10)+5]","title":"1/(cm² s sr MeV)","titlePadding":10}},
"color":{"field":"k","type":"nominal","scale":{"domain":["a","b","c","d"],"range":["black","blue","blue","blue"]},"legend":null}},
"layer":[
{"transform":[{"filter":{"field":"k","oneOf":["a"]}}],"mark":{"type":"line","strokeWidth":3,"invalid":"break-paths-show-domains"}},
{"transform":[{"filter":{"field":"k","oneOf":["b","c","d"]}}],"mark":{"type":"square","size":6,"opacity":1},"encoding":{"x":{"field":"h","type":"quantitative","axis":{"orient":"top","values":[0,6,12,18,24,30,36,42,48,54,60,66,72],"labels":false,"title":null}},"y":{"field":"v","type":"quantitative","axis":{"orient":"right","values":[0.001,0.01,0.1,1,10,100,1000,10000,100000,1000000,10000000],"labels":false,"title":null}}}}
],
"resolve":{"axis":{"x":"independent","y":"independent"}}},
{"width":296,"height":181,"data":{"name":"p3"},"transform":[{"fold":["a","b","c","d","e"],"as":["k","v"]}],
"encoding":{
"x":{"field":"h","type":"quantitative","scale":{"domain":[0,72],"nice":false,"zero":false},"axis":{"orient":"bottom","values":[0,6,12,18,24,30,36,42,48,54,60,66,72],"labels":false,"title":null}},
"y":{"field":"v","type":"quantitative","scale":{"type":"log","domain":[0.00001,2000000],"nice":false},"axis":{"orient":"left","values":[0.00001,0.0001,0.001,0.01,0.1,1,10,100,1000,10000,100000,1000000],"labelExpr":"round(log(datum.value)/LN10)%2!=0?'':'10'+['⁻⁵','⁻⁴','⁻³','⁻²','⁻¹','⁰','¹','²','³','⁴','⁵','⁶','⁷'][round(log(datum.value)/LN10)+5]","title":"1/(cm² s sr MeV)","titlePadding":10}},
"color":{"field":"k","type":"nominal","scale":{"domain":["a","b","c","d","e"],"range":["black","blue","#c8826a","red","red"]},"legend":{"orient":"none","legendX":-16,"legendY":-17,"title":null,"direction":"horizontal","values":["a","b","c","d"],"columnPadding":23,"labelExpr":"datum.value=='a'?'0.14-0.62 MeV H':datum.value=='b'?'0.62-2.22 MeV H':datum.value=='c'?'2.2-12 MeV H':'13-100 MeV H'","labelColor":{"expr":"datum.value=='a'?'black':datum.value=='b'?'blue':datum.value=='c'?'#c8826a':'red'"}}}},
"layer":[
{"transform":[{"filter":{"field":"k","oneOf":["a","b","c"]}}],"mark":{"type":"line","strokeWidth":3,"invalid":"break-paths-show-domains"}},
{"transform":[{"filter":{"field":"k","oneOf":["d","e"]}}],"mark":{"type":"square","size":5,"opacity":1},"encoding":{"x":{"field":"h","type":"quantitative","axis":{"orient":"top","values":[0,6,12,18,24,30,36,42,48,54,60,66,72],"labels":false,"title":null}},"y":{"field":"v","type":"quantitative","axis":{"orient":"right","values":[0.00001,0.0001,0.001,0.01,0.1,1,10,100,1000,10000,100000,1000000],"labels":false,"title":null}}}}
],
"resolve":{"axis":{"x":"independent","y":"independent"}}},
{"width":296,"height":181,"data":{"name":"p4"},"transform":[{"fold":["a","b","c","d","e"],"as":["k","v"]}],
"encoding":{
"x":{"field":"h","type":"quantitative","scale":{"domain":[0,72],"nice":false,"zero":false},"axis":{"orient":"bottom","values":[0,6,12,18,24,30,36,42,48,54,60,66,72],"labels":false,"title":null}},
"y":{"field":"v","type":"quantitative","scale":{"type":"log","domain":[0.00001,2000000],"nice":false},"axis":{"orient":"left","values":[0.00001,0.0001,0.001,0.01,0.1,1,10,100,1000,10000,100000,1000000],"labelExpr":"round(log(datum.value)/LN10)%2!=0?'':'10'+['⁻⁵','⁻⁴','⁻³','⁻²','⁻¹','⁰','¹','²','³','⁴','⁵','⁶','⁷'][round(log(datum.value)/LN10)+5]","title":"1/(cm² s sr MeV)","titlePadding":10}},
"color":{"field":"k","type":"nominal","scale":{"domain":["a","b","c","d","e"],"range":["black","blue","#c8826a","red","red"]},"legend":null}},
"layer":[
{"transform":[{"filter":{"field":"k","oneOf":["a","b","c"]}}],"mark":{"type":"line","strokeWidth":3,"invalid":"break-paths-show-domains"}},
{"transform":[{"filter":{"field":"k","oneOf":["d","e"]}}],"mark":{"type":"square","size":5,"opacity":1},"encoding":{"x":{"field":"h","type":"quantitative","axis":{"orient":"top","values":[0,6,12,18,24,30,36,42,48,54,60,66,72],"labels":false,"title":null}},"y":{"field":"v","type":"quantitative","axis":{"orient":"right","values":[0.00001,0.0001,0.001,0.01,0.1,1,10,100,1000,10000,100000,1000000],"labels":false,"title":null}}}}
],
"resolve":{"axis":{"x":"independent","y":"independent"}}},
{"width":296,"height":179,"data":{"name":"p5"},"transform":[{"fold":["a","b","c","d","e","f"],"as":["k","v"]}],
"encoding":{
"x":{"field":"h","type":"quantitative","scale":{"domain":[0,72],"nice":false,"zero":false},"axis":{"orient":"bottom","values":[0,6,12,18,24,30,36,42,48,54,60,66,72],"labels":false,"title":null}},
"y":{"field":"v","type":"quantitative","scale":{"type":"log","domain":[0.001,10000],"nice":false},"axis":{"orient":"left","values":[0.001,0.01,0.1,1,10,100,1000,10000],"labelExpr":"'10'+['⁻⁵','⁻⁴','⁻³','⁻²','⁻¹','⁰','¹','²','³','⁴','⁵','⁶','⁷'][round(log(datum.value)/LN10)+5]","title":"1/(cm² s sr MeV/nuc.)","titlePadding":10}},
"color":{"field":"k","type":"nominal","scale":{"domain":["a","b","c","d","e","f"],"range":["black","black","blue","blue","red","blue"]},"legend":{"orient":"none","legendX":-16,"legendY":-21,"title":null,"direction":"horizontal","values":["a","c","e"],"columnPadding":25,"labelExpr":"datum.value=='a'?'0.12-1.08 MeV/n He':datum.value=='c'?'0.12-1.08 MeV/n CNO':'0.12-1.08 MeV Fe'","labelColor":{"expr":"datum.value=='a'?'black':datum.value=='c'?'blue':'red'"}}}},
"layer":[
{"transform":[{"filter":{"field":"k","oneOf":["a","b"]}}],"mark":{"type":"square","size":6,"opacity":1}},
{"transform":[{"filter":{"field":"k","oneOf":["c","d","e","f"]}}],"mark":{"type":"square","size":5,"opacity":1},"encoding":{"x":{"field":"h","type":"quantitative","axis":{"orient":"top","values":[0,6,12,18,24,30,36,42,48,54,60,66,72],"labels":false,"title":null}},"y":{"field":"v","type":"quantitative","axis":{"orient":"right","values":[0.001,0.01,0.1,1,10,100,1000,10000],"labels":false,"title":null}}}}
],
"resolve":{"axis":{"x":"independent","y":"independent"}}},
{"width":296,"height":179,"data":{"name":"p6"},"transform":[{"fold":["a","b","c","d","e","f"],"as":["k","v"]}],
"encoding":{
"x":{"field":"h","type":"quantitative","scale":{"domain":[0,72],"nice":false,"zero":false},"axis":{"orient":"bottom","values":[0,6,12,18,24,30,36,42,48,54,60,66,72],"labels":false,"title":null}},
"y":{"field":"v","type":"quantitative","scale":{"type":"log","domain":[0.001,10000],"nice":false},"axis":{"orient":"left","values":[0.001,0.01,0.1,1,10,100,1000,10000],"labelExpr":"'10'+['⁻⁵','⁻⁴','⁻³','⁻²','⁻¹','⁰','¹','²','³','⁴','⁵','⁶','⁷'][round(log(datum.value)/LN10)+5]","title":"1/(cm² s sr MeV/nuc.)","titlePadding":10}},
"color":{"field":"k","type":"nominal","scale":{"domain":["a","b","c","d","e","f"],"range":["black","black","blue","blue","red","blue"]},"legend":null}},
"layer":[
{"transform":[{"filter":{"field":"k","oneOf":["a","b"]}}],"mark":{"type":"square","size":6,"opacity":1}},
{"transform":[{"filter":{"field":"k","oneOf":["c","d","e","f"]}}],"mark":{"type":"square","size":5,"opacity":1},"encoding":{"x":{"field":"h","type":"quantitative","axis":{"orient":"top","values":[0,6,12,18,24,30,36,42,48,54,60,66,72],"labels":false,"title":null}},"y":{"field":"v","type":"quantitative","axis":{"orient":"right","values":[0.001,0.01,0.1,1,10,100,1000,10000],"labels":false,"title":null}}}}
],
"resolve":{"axis":{"x":"independent","y":"independent"}}},
{"width":296,"height":179,"data":{"name":"p7"},"transform":[{"fold":["a","b","c","f","d"],"as":["k","v"]}],
"encoding":{
"x":{"field":"h","type":"quantitative","scale":{"domain":[0,72],"nice":false,"zero":false},"axis":{"orient":"bottom","values":[0,6,12,18,24,30,36,42,48,54,60,66,72],"labelExpr":"datum.value%24==0?['24-Dec','25-Dec','26-Dec','27-Dec'][datum.value/24]:''","labelPadding":15,"title":"STEREO Behind","titleAnchor":"start","titlePadding":3}},
"y":{"field":"v","type":"quantitative","scale":{"type":"log","domain":[0.00001,1000],"nice":false},"axis":{"orient":"left","values":[0.00001,0.0001,0.001,0.01,0.1,1,10,100,1000],"labelExpr":"round(log(datum.value)/LN10)%2!=0?'':'10'+['⁻⁵','⁻⁴','⁻³','⁻²','⁻¹','⁰','¹','²','³','⁴','⁵','⁶','⁷'][round(log(datum.value)/LN10)+5]","title":"1/(cm² s sr MeV/nuc.)","titlePadding":10}},
"color":{"field":"k","type":"nominal","scale":{"domain":["a","b","c","f","d","e"],"range":["black","black","black","black","blue","red"]},"legend":{"orient":"none","legendX":-16,"legendY":-17,"title":null,"direction":"horizontal","values":["a","d","e"],"columnPadding":25,"labelExpr":"datum.value=='a'?'4 to 12 MeV/n He':datum.value=='d'?'4 to 12 MeV/n CNO':'4 to 12 MeV Fe'","labelColor":{"expr":"datum.value=='a'?'black':datum.value=='d'?'blue':'red'"}}}},
"layer":[
{"transform":[{"filter":{"field":"k","oneOf":["a","b","c","f"]}}],"mark":{"type":"square","size":5,"opacity":1}},
{"transform":[{"filter":{"field":"k","oneOf":["d"]}}],"mark":{"type":"square","size":5,"opacity":1},"encoding":{"x":{"field":"h","type":"quantitative","axis":{"orient":"top","values":[0,6,12,18,24,30,36,42,48,54,60,66,72],"labels":false,"title":null}},"y":{"field":"v","type":"quantitative","axis":{"orient":"right","values":[0.00001,0.0001,0.001,0.01,0.1,1,10,100,1000],"labels":false,"title":null}}}}
],
"resolve":{"axis":{"x":"independent","y":"independent"}}},
{"width":296,"height":179,"data":{"name":"p8"},"transform":[{"fold":["a","c","d","e"],"as":["k","v"]}],
"encoding":{
"x":{"field":"h","type":"quantitative","scale":{"domain":[0,72],"nice":false,"zero":false},"axis":{"orient":"bottom","values":[0,6,12,18,24,30,36,42,48,54,60,66,72],"labelExpr":"datum.value%24==0?['24-Dec','25-Dec','26-Dec','27-Dec'][datum.value/24]:''","labelPadding":15,"title":"STEREO Ahead","titleAnchor":"end","titlePadding":3}},
"y":{"field":"v","type":"quantitative","scale":{"type":"log","domain":[0.00001,1000],"nice":false},"axis":{"orient":"left","values":[0.00001,0.0001,0.001,0.01,0.1,1,10,100,1000],"labelExpr":"round(log(datum.value)/LN10)%2!=0?'':'10'+['⁻⁵','⁻⁴','⁻³','⁻²','⁻¹','⁰','¹','²','³','⁴','⁵','⁶','⁷'][round(log(datum.value)/LN10)+5]","title":"1/(cm² s sr MeV/nuc.)","titlePadding":10}},
"color":{"field":"k","type":"nominal","scale":{"domain":["a","c","d","e"],"range":["black","black","blue","red"]},"legend":null}},
"layer":[
{"transform":[{"filter":{"field":"k","oneOf":["a","c"]}}],"mark":{"type":"square","size":5,"opacity":1}},
{"transform":[{"filter":{"field":"k","oneOf":["d","e"]}}],"mark":{"type":"square","size":5,"opacity":1},"encoding":{"x":{"field":"h","type":"quantitative","axis":{"orient":"top","values":[0,6,12,18,24,30,36,42,48,54,60,66,72],"labels":false,"title":null}},"y":{"field":"v","type":"quantitative","axis":{"orient":"right","values":[0.00001,0.0001,0.001,0.01,0.1,1,10,100,1000],"labels":false,"title":null}}}}
],
"resolve":{"axis":{"x":"independent","y":"independent"}}}
],
"config":{
"font":"DejaVu Sans",
"view":{"stroke":"black","strokeWidth":1},
"axis":{"grid":false,"domain":false,"ticks":true,"tickSize":-6,"tickColor":"black","tickWidth":1,"labelColor":"black","labelFont":"DejaVu Sans","labelFontSize":13,"titleFont":"DejaVu Sans","titleFontSize":13,"titleFontWeight":"normal","titleColor":"black","labelFlush":false,"labelOverlap":false,"labelPadding":9},
"legend":{"symbolSize":0,"symbolStrokeWidth":0,"symbolOpacity":0,"labelOffset":0,"labelFont":"DejaVu Sans","labelFontSize":13,"labelLimit":600,"padding":0}
}
}
